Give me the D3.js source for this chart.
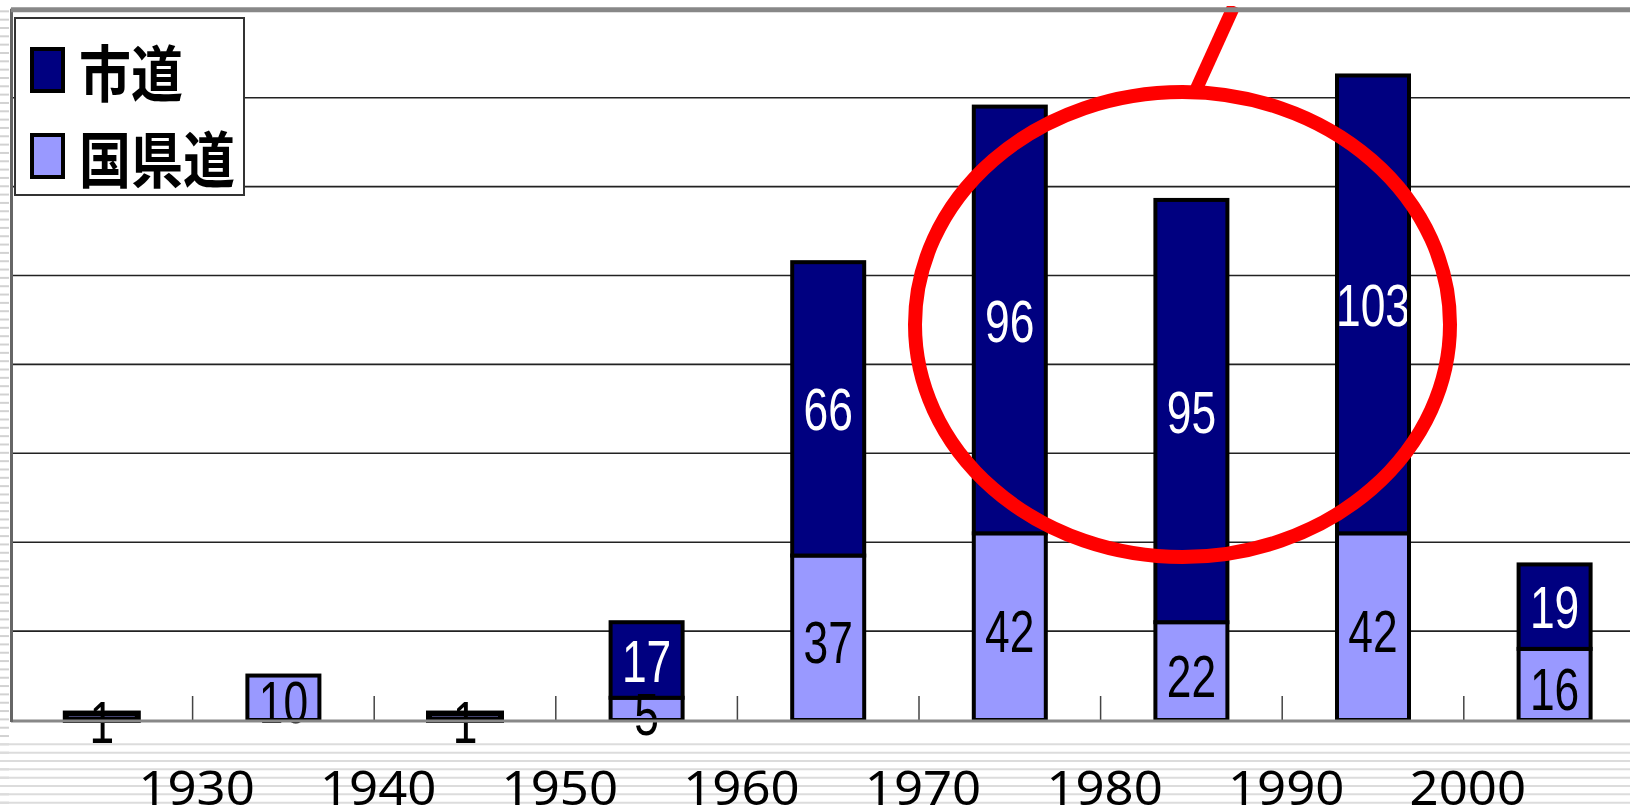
<!DOCTYPE html>
<html>
<head>
<meta charset="utf-8">
<script src="https://cdn.jsdelivr.net/npm/d3@7/dist/d3.min.js"></script>
<style>
  html, body { margin: 0; padding: 0; background: #fff; }
  svg { display: block; }
</style>
</head>
<body>
<svg id="chart" width="1630" height="810"></svg>
<script>
// ---- data ----
const decades = [1920, 1930, 1940, 1950, 1960, 1970, 1980, 1990, 2000];
const kokenValues = [1, 10, 1, 5, 37, 42, 22, 42, 16];      // 国県道
const shiValues   = [0, 0, 0, 17, 66, 96, 95, 103, 19];     // 市道
const tickYears   = [1930, 1940, 1950, 1960, 1970, 1980, 1990, 2000];
const gridValues  = [20, 40, 60, 80, 100, 120, 140];
const seriesNames = ["市道", "国県道"];
const seriesKeys  = ["shi", "koken"];

// ---- layout ----
const W = 1630, H = 810;
const svg = d3.select("#chart");
const colors = { shi: "#000080", koken: "#9999ff" };

const x = d3.scaleLinear().domain([1920, 2010]).range([11, 1645.4]);
const y = d3.scaleLinear().domain([0, 160]).range([720, 8.8]);
const barW = 72;

const rows = decades.map((d, i) => ({ decade: d, koken: kokenValues[i], shi: shiValues[i] }));
const stacked = d3.stack().keys(["koken", "shi"])(rows);

// background stripes (slide decoration)
const bg = svg.append("g");
bg.append("rect").attr("width", W).attr("height", H).attr("fill", "#fff");
d3.range(3, H, 8.33).forEach(yy => {
  bg.append("line").attr("x1", 0).attr("x2", 9).attr("y1", yy).attr("y2", yy)
    .attr("stroke", "#d2d2d2").attr("stroke-width", 2);
  if (yy > 744) {
    bg.append("line").attr("x1", 0).attr("x2", W).attr("y1", yy).attr("y2", yy)
      .attr("stroke", "#dcdcdc").attr("stroke-width", 2);
  }
});

// plot area
svg.append("rect").attr("x", 11).attr("y", y(160)).attr("width", W - 11).attr("height", y(0) - y(160))
  .attr("fill", "#fff");

// gridlines
svg.append("g").selectAll("line").data(gridValues).join("line")
  .attr("x1", 11).attr("x2", W)
  .attr("y1", d => y(d)).attr("y2", d => y(d))
  .attr("stroke", "#222").attr("stroke-width", 1.6);

// ticks
svg.append("g").selectAll("line").data(tickYears).join("line")
  .attr("x1", d => x(d)).attr("x2", d => x(d))
  .attr("y1", y(0) - 24).attr("y2", y(0))
  .attr("stroke", "#444").attr("stroke-width", 1.5);

// bars
const defs = svg.append("defs");
const barG = svg.append("g");
stacked.forEach(layer => {
  const key = layer.key;
  layer.forEach((seg, i) => {
    const v = seg[1] - seg[0];
    if (v <= 0) return;
    const cx = x(seg.data.decade + 5);
    const y0 = y(seg[0]), y1 = y(seg[1]);
    barG.append("rect")
      .attr("x", cx - barW / 2).attr("y", y1 - (v < 3 ? 2 : 0))
      .attr("width", barW).attr("height", y0 - y1 + (v < 3 ? 2 : 0))
      .attr("fill", colors[key]).attr("stroke", "#000").attr("stroke-width", v < 3 ? 6 : 4);
  });
});

// labels
const labG = svg.append("g");
stacked.forEach(layer => {
  const key = layer.key;
  layer.forEach((seg, i) => {
    const v = seg[1] - seg[0];
    if (v <= 0) return;
    const cx = x(seg.data.decade + 5);
    const y0 = y(seg[0]), y1 = y(seg[1]);
    const cy = (y0 + y1) / 2 + (key === "koken" ? 4 : 0);
    let g = labG;
    if (key === "shi") {
      const id = "clip" + i;
      defs.append("clipPath").attr("id", id).append("rect")
        .attr("x", cx - barW / 2).attr("y", y1).attr("width", barW - 2).attr("height", y0 - y1);
      g = labG.append("g").attr("clip-path", `url(#${id})`);
    }
    g.append("text")
      .attr("transform", `translate(${cx},${cy}) scale(0.74,1)`)
      .attr("text-anchor", "middle").attr("dy", "0.36em")
      .attr("font-family", "Liberation Sans, Arial, sans-serif")
      .attr("font-size", 60)
      .attr("fill", key === "shi" ? "#fff" : "#000")
      .text(v);
  });
});

// axes lines
svg.append("line").attr("x1", 11).attr("x2", W).attr("y1", y(0) + 1).attr("y2", y(0) + 1)
  .attr("stroke", "#888").attr("stroke-width", 3);
svg.append("line").attr("x1", 11.5).attr("x2", 11.5).attr("y1", y(160)).attr("y2", y(0) + 2)
  .attr("stroke", "#666").attr("stroke-width", 3);

// x labels
svg.append("g").selectAll("text").data(tickYears).join("text")
  .attr("transform", d => `translate(${x(d) + 4},805) scale(1.06,1)`)
  .attr("text-anchor", "middle")
  .attr("font-family", "Noto Sans, sans-serif")
  .attr("font-size", 48)
  .attr("fill", "#000")
  .text(d => d);

// legend
const leg = svg.append("g");
leg.append("rect").attr("x", 15).attr("y", 18).attr("width", 229).attr("height", 177)
  .attr("fill", "#fff").attr("stroke", "#333").attr("stroke-width", 2);
const legRows = [70, 156];
seriesKeys.forEach((k, i) => {
  leg.append("rect").attr("x", 32).attr("y", legRows[i] - 21).attr("width", 31).attr("height", 42)
    .attr("fill", colors[k]).attr("stroke", "#000").attr("stroke-width", 4);
  leg.append("text")
    .attr("transform", `translate(79,${legRows[i]}) scale(1,1.18)`)
    .attr("dominant-baseline", "central")
    .attr("font-family", "Noto Sans CJK JP, sans-serif")
    .attr("font-weight", 700)
    .attr("font-size", 52)
    .attr("fill", "#000")
    .text(seriesNames[i]);
});

// red annotation
svg.append("ellipse").attr("cx", 1182.5).attr("cy", 324.5).attr("rx", 267.5).attr("ry", 232.5)
  .attr("fill", "none").attr("stroke", "#ff0000").attr("stroke-width", 14);
svg.append("line").attr("x1", 1195).attr("y1", 92).attr("x2", 1234).attr("y2", 6)
  .attr("stroke", "#ff0000").attr("stroke-width", 13);

// top border
svg.append("line").attr("x1", 11).attr("x2", W).attr("y1", y(160) + 1).attr("y2", y(160) + 1)
  .attr("stroke", "#888").attr("stroke-width", 5);
svg.append("rect").attr("x", 0).attr("y", 0).attr("width", W).attr("height", 6).attr("fill", "#fff");
</script>
</body>
</html>
